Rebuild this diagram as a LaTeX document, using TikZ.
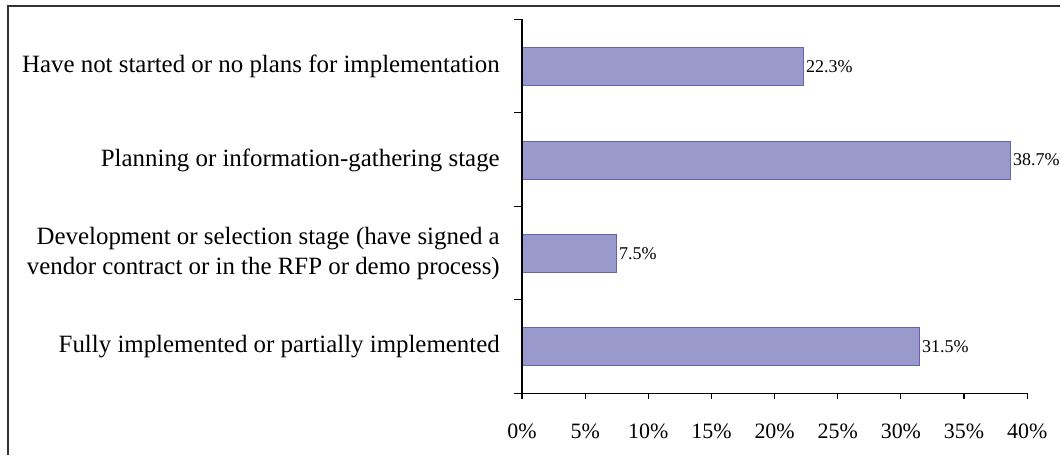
\documentclass[tikz,border=0pt]{standalone}
\usepackage{fontspec}
\setmainfont{Liberation Serif}
\definecolor{barfill}{RGB}{153,153,204}
\definecolor{barline}{RGB}{100,100,168}
\begin{document}
\begin{tikzpicture}[x=0.025cm,y=-0.025cm,
		catlabel/.style={anchor=east,align=right,inner sep=0pt,font=\fontsize{17.7}{21.3}\selectfont},
		barbox/.style={draw=barline,fill=barfill,line width=0.7pt},
		vallabel/.style={anchor=west,inner sep=1.5pt,font=\fontsize{12.8}{15}\selectfont},
		ticklabel/.style={inner sep=0pt,font=\fontsize{15.6}{18}\selectfont}]
		\useasboundingbox (0,0) rectangle (1060,455);
		% frame
		\draw[line width=1.3pt,black!80] (8,455) -- (8,6) -- (1060,6);
		% category labels
		\node[catlabel] (c1) at (500,66.3) {Have not started or no plans for implementation};
		\node[catlabel] (c2) at (500,160) {Planning or information-gathering stage};
		\node[catlabel] (c3) at (500,253.3) {Development or selection stage (have signed a\\vendor contract or in the RFP or demo process)};
		\node[catlabel] (c4) at (500,346.7) {Fully implemented or partially implemented};
		% bars
		\foreach \v/\c [count=\i] in {22.3/66.3,38.7/160,7.5/253.3,31.5/346.7}{
			\draw[barbox] (522,\c-19) rectangle ({522+\v*12.63},\c+19);
			\node[vallabel] (v\i) at ({522+\v*12.63},\c) {\v\%};
		}
		% axes
		\draw[thick] (522,19.3) -- (522,393.3) -- (1027.2,393.3);
		\foreach \i in {0,...,4}
			\draw[thick] (514,19.3+93.5*\i) -- (522,19.3+93.5*\i);
		\foreach \k in {0,...,8}{
			\draw[thick] ({522+5*\k*12.63},393.3) -- ({522+5*\k*12.63},399);
			\node[ticklabel] (t\k) at ({522+5*\k*12.63},431) {\the\numexpr5*\k\relax\%};
		}
	\end{tikzpicture}
\end{document}
